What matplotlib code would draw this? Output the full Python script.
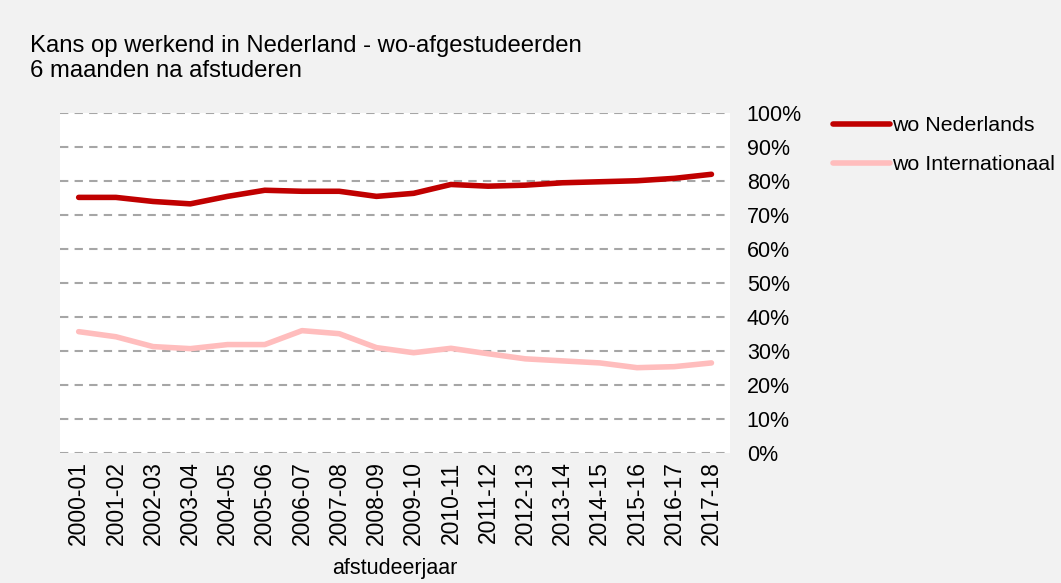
import numpy as np
import matplotlib.pyplot as plt
from matplotlib.ticker import PercentFormatter

plt.rcParams['font.family'] = ['Liberation Sans', 'DejaVu Sans']

years = ["2000-01", "2001-02", "2002-03", "2003-04", "2004-05", "2005-06",
         "2006-07", "2007-08", "2008-09", "2009-10", "2010-11", "2011-12",
         "2012-13", "2013-14", "2014-15", "2015-16", "2016-17", "2017-18"]
wo_nl = [75.2, 75.2, 74.0, 73.3, 75.5, 77.3, 77.0, 77.0, 75.5, 76.4,
         79.0, 78.5, 78.8, 79.5, 79.8, 80.1, 80.8, 82.0]
wo_int = [35.7, 34.2, 31.3, 30.7, 31.9, 31.9, 36.0, 35.1, 31.0, 29.5,
          30.8, 29.2, 27.7, 27.1, 26.5, 25.1, 25.4, 26.5]

bg = '#f2f2f2'
fig = plt.figure(figsize=(10.61, 5.83), dpi=100, facecolor=bg)
ax = fig.add_axes([0.0566, 0.223, 0.6315, 0.583])
ax.set_facecolor('white')

x = np.arange(len(years))
ax.plot(x, wo_nl, color='#c00000', lw=4, solid_capstyle='round', label='wo Nederlands')
ax.plot(x, wo_int, color='#ffbdbd', lw=4, solid_capstyle='round', label='wo Internationaal')

ax.set_xlim(-0.5, len(years) - 0.5)
ax.set_ylim(0, 100)
ax.set_yticks(np.arange(0, 101, 10))
ax.yaxis.set_major_formatter(PercentFormatter(decimals=0))
ax.yaxis.tick_right()
ax.set_xticks(x)
ax.set_xticklabels(years, rotation=90)
ax.tick_params(axis='y', length=0, labelsize=15.5, colors='black', pad=12)
ax.tick_params(axis='x', length=0, labelsize=16.5, colors='black', pad=6)
for s in ax.spines.values():
    s.set_visible(False)
ax.grid(axis='y', color='#a6a6a6', ls=(0, (4, 3)), lw=1.5)
ax.set_axisbelow(True)

ax.set_xlabel('afstudeerjaar', fontsize=15.5, labelpad=9)

fig.text(0.028, 0.94, 'Kans op werkend in Nederland - wo-afgestudeerden\n6 maanden na afstuderen',
         fontsize=17.2, va='top', ha='left', linespacing=1.2)

leg = fig.legend(loc='upper left', bbox_to_anchor=(0.767, 0.834), frameon=False,
                 fontsize=15.4, handlelength=2.65, handletextpad=0.1, labelspacing=0.95)

fig.savefig('out.png', dpi=100, facecolor=bg)
